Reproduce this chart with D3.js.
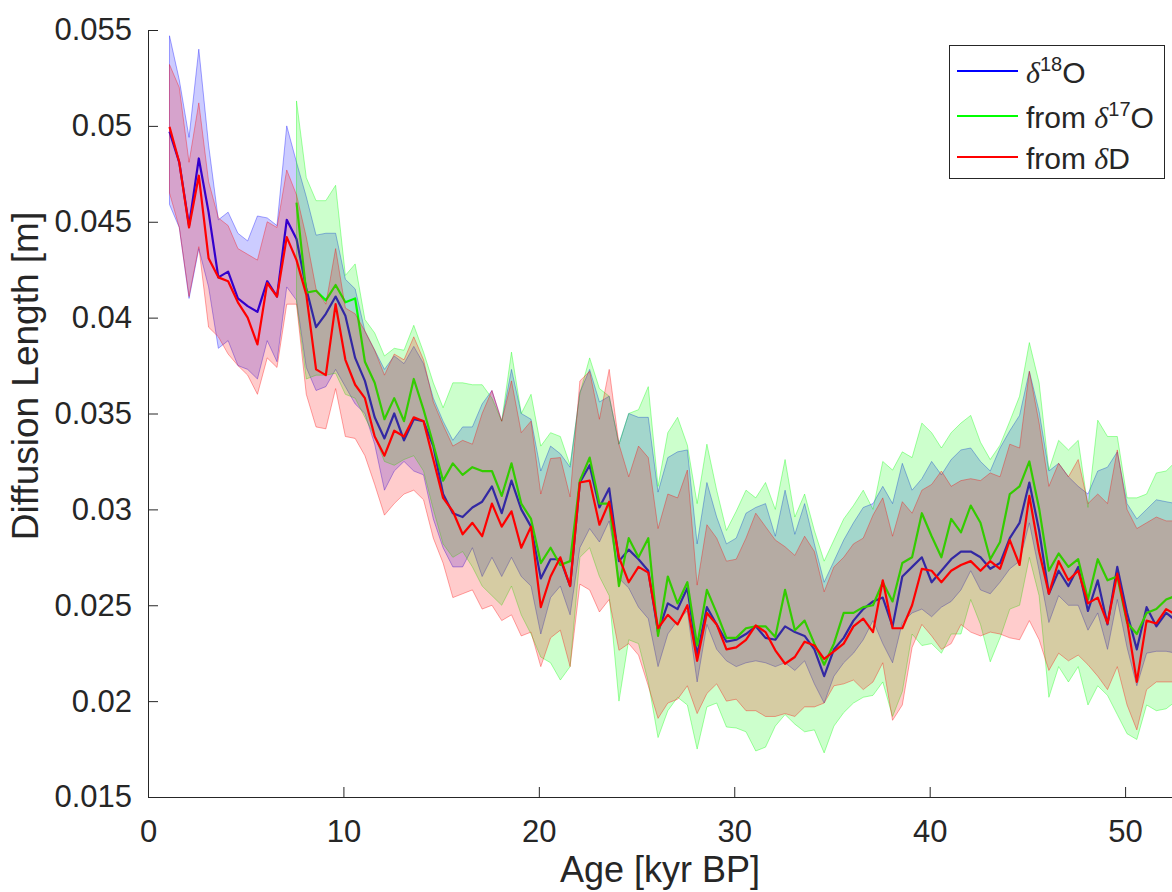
<!DOCTYPE html>
<html>
<head>
<meta charset="utf-8">
<script src="https://cdn.jsdelivr.net/npm/d3@7"></script>
<style>
  body { margin: 0; background: #fff; }
  svg text { font-family: "Liberation Sans", Arial, Helvetica, sans-serif; fill: #262626; }
</style>
</head>
<body>
<svg id="chart" width="1172" height="892"></svg>
<script>
var age = [
  1.1, 1.6, 2.1, 2.6, 3.1, 3.6, 4.1, 4.6, 5.1, 5.6,
  6.1, 6.6, 7.1, 7.6, 8.1, 8.6, 9.1, 9.6, 10.1, 10.6,
  11.1, 11.6, 12.1, 12.6, 13.1, 13.6, 14.1, 14.6, 15.1, 15.6,
  16.1, 16.6, 17.1, 17.6, 18.1, 18.6, 19.1, 19.6, 20.1, 20.6,
  21.1, 21.6, 22.1, 22.6, 23.1, 23.6, 24.1, 24.6, 25.1, 25.6,
  26.1, 26.6, 27.1, 27.6, 28.1, 28.6, 29.1, 29.6, 30.1, 30.6,
  31.1, 31.6, 32.1, 32.6, 33.1, 33.6, 34.1, 34.6, 35.1, 35.6,
  36.1, 36.6, 37.1, 37.6, 38.1, 38.6, 39.1, 39.6, 40.1, 40.6,
  41.1, 41.6, 42.1, 42.6, 43.1, 43.6, 44.1, 44.6, 45.1, 45.6,
  46.1, 46.6, 47.1, 47.6, 48.1, 48.6, 49.1, 49.6, 50.1, 50.6,
  51.1, 51.6, 52.1, 52.6
];

var d18O = [
  49.7, 48.1, 44.8, 48.3, 45.5, 42.1, 42.4, 41.0, 40.6, 40.3,
  41.9, 41.1, 45.1, 44.1, 41.5, 39.5, 40.2, 41.1, 40.1, 37.9,
  36.7, 34.8, 33.7, 35.0, 33.6, 34.7, 34.6, 33.3, 30.8, 29.8,
  29.6, 30.1, 30.4, 31.2, 29.8, 31.5, 30.0, 29.1, 26.4, 27.4,
  27.4, 26.0, 31.4, 32.3, 30.1, 31.1, 27.3, 27.9, 27.4, 26.8,
  23.6, 25.1, 24.8, 25.9, 22.4, 24.9, 24.0, 23.1, 23.2, 23.5,
  23.9, 23.3, 23.2, 23.9, 23.6, 23.4, 22.7, 21.3, 22.7, 23.3,
  24.2, 24.8, 25.2, 25.4, 23.9, 26.5, 27.0, 27.5, 26.2, 26.8,
  27.4, 27.8, 27.8, 27.5, 26.9, 27.2, 28.5, 29.3, 31.4, 28.9,
  25.6, 26.8, 26.0, 27.0, 24.7, 26.3, 24.0, 27.0, 24.6, 22.7,
  24.9, 23.9, 24.6, 24.2
];
var d18OHi = [
  54.7, 52.4, 49.4, 54.0, 49.0, 45.1, 45.5, 44.4, 44.0, 45.3,
  45.2, 44.8, 50.0, 48.1, 46.3, 44.3, 44.4, 44.4, 42.0, 41.5,
  39.3, 38.3, 37.3, 38.0, 37.6, 38.5, 37.6, 35.8, 34.6, 33.6,
  34.3, 34.3, 35.5, 36.2, 34.6, 37.3, 35.0, 34.7, 32.0, 33.3,
  32.9, 32.2, 36.1, 37.3, 35.6, 35.9, 33.4, 35.0, 34.8, 34.8,
  30.9, 32.7, 33.0, 33.1, 28.2, 31.4, 29.6, 28.2, 28.5, 29.8,
  30.1, 30.3, 28.6, 31.0, 28.7, 30.3, 28.2, 26.2, 27.3, 28.4,
  29.3, 30.1, 30.3, 31.2, 30.3, 32.4, 31.0, 31.6, 32.5, 31.8,
  32.6, 33.1, 33.2, 32.5, 32.0, 33.2, 34.1, 34.9, 37.2, 35.1,
  32.0, 32.4, 31.7, 31.2, 30.8, 32.0, 32.2, 33.0, 30.3, 29.5,
  30.0, 30.5, 30.4, 30.3
];
var d18OLo = [
  45.9, 44.7, 41.0, 43.6, 41.6, 38.4, 38.8, 37.5, 37.3, 36.8,
  38.8, 37.7, 41.6, 40.9, 37.4, 36.2, 36.4, 37.3, 36.4, 35.5,
  35.0, 33.4, 31.0, 32.0, 32.5, 32.0, 31.8, 29.5, 28.0, 27.0,
  27.0, 28.0, 26.5, 27.5, 26.5, 27.5, 26.5, 26.0, 23.5, 25.4,
  26.0, 24.5, 28.0, 29.0, 28.3, 29.4, 26.4, 25.9, 24.9, 24.3,
  21.8, 23.5, 24.2, 24.7, 21.0, 24.0, 22.7, 22.1, 21.8, 22.0,
  22.1, 22.0, 21.8, 22.0, 21.6, 22.1, 20.9, 19.9, 21.3, 22.0,
  22.5, 23.2, 24.2, 23.0, 22.0, 24.1, 24.6, 24.8, 24.4, 24.9,
  25.2, 25.8, 26.8, 25.8, 25.6, 26.2, 26.9, 27.3, 29.3, 26.8,
  24.1, 25.5, 25.0, 25.0, 23.7, 24.6, 22.7, 25.3, 22.8, 20.8,
  22.5, 22.6, 22.6, 22.5
];

var d17O = [
  null, null, null, null, null, null, null, null, null, null,
  null, null, null, 46.0, 41.3, 41.4, 40.9, 41.7, 40.8, 41.0,
  37.7, 36.6, 34.7, 35.8, 34.6, 36.8, 35.2, 33.4, 31.5, 32.4,
  31.8, 32.2, 32.0, 32.0, 30.7, 32.4, 30.3, 29.5, 27.2, 28.0,
  27.1, 27.3, 31.5, 32.7, 30.3, 30.3, 26.0, 28.5, 27.5, 28.5,
  23.4, 26.5, 25.1, 26.2, 22.9, 25.8, 24.6, 23.3, 23.3, 23.8,
  23.9, 23.9, 23.35, 25.8, 23.7, 24.2, 23.0, 21.9, 23.0, 24.6,
  24.6, 24.9, 25.0, 26.2, 25.2, 27.2, 27.5, 29.8, 28.6, 27.5,
  29.5, 28.8, 30.2, 29.3, 27.4, 28.3, 30.8, 31.2, 32.5, 30.05,
  26.8, 27.7, 27.0, 27.4, 25.3, 27.4, 26.3, 26.5, 24.1, 23.5,
  24.6, 24.8, 25.3, 25.5
];
var d17OHi = [
  null, null, null, null, null, null, null, null, null, null,
  null, null, null, 51.3, 47.3, 46.1, 46.1, 46.9, 42.2, 42.8,
  39.9, 39.2, 38.0, 38.4, 38.3, 39.6, 38.2, 36.6, 35.3, 36.6,
  36.6, 36.5, 36.5, 35.8, 34.6, 38.2, 35.0, 36.0, 33.3, 34.0,
  33.8, 32.3, 36.05, 37.9, 36.3, 35.9, 33.4, 35.0, 35.2, 36.4,
  31.2, 34.0, 34.8, 33.35, 30.3, 33.4, 31.0, 28.9, 29.9, 31.0,
  30.6, 31.4, 30.0, 32.6, 29.6, 30.8, 28.9, 27.3, 28.4, 29.5,
  30.2, 31.0, 30.0, 32.5, 32.05, 33.0, 32.7, 34.5, 34.0, 33.2,
  34.0, 34.5, 34.9, 33.5, 32.6, 33.35, 34.6, 35.9, 38.7, 36.6,
  32.05, 33.6, 33.1, 33.6, 30.1, 34.65, 33.8, 33.8, 30.6, 30.6,
  30.8, 31.9, 32.0, 32.5
];
var d17OLo = [
  null, null, null, null, null, null, null, null, null, null,
  null, null, null, 40.8, 36.8, 37.0, 37.0, 37.1, 36.0, 35.8,
  34.8, 33.8, 32.5, 32.3, 32.6, 32.8, 32.0, 30.0, 28.2, 27.5,
  27.8, 27.0, 26.0, 25.5, 25.0, 26.0, 24.5, 23.5, 22.3, 22.0,
  21.1, 21.8, 27.5, 28.0, 26.5, 25.5, 20.0, 23.2, 23.0, 21.0,
  18.1, 19.5, 20.2, 19.8, 17.5, 19.7, 19.9, 18.65, 18.6, 18.4,
  17.4, 17.6, 18.7, 19.3, 18.8, 18.4, 18.5, 17.3, 18.7, 19.4,
  19.9, 20.2, 20.3, 21.0, 19.2, 20.5, 23.5, 22.9, 23.0, 22.5,
  23.5, 23.5, 25.3, 24.0, 22.05, 23.3, 24.8, 25.0, 27.5, 25.5,
  20.2, 21.8, 21.0, 21.8, 19.8, 20.8, 20.3, 19.3, 18.3, 18.0,
  19.8, 19.5, 19.6, 20.0
];

var dD = [
  49.95, 48.1, 44.7, 47.4, 43.1, 42.1, 41.9, 40.8, 40.0, 38.6,
  41.8, 41.1, 44.2, 43.0, 41.2, 37.3, 37.0, 40.7, 37.8, 36.5,
  35.8, 33.8, 32.8, 34.1, 33.8, 34.8, 34.6, 32.6, 30.6, 29.9,
  28.7, 29.3, 28.6, 30.3, 29.1, 29.9, 28.0, 29.1, 24.9, 26.5,
  27.5, 26.0, 31.4, 31.5, 29.2, 30.4, 27.5, 26.2, 27.0, 26.7,
  23.8, 24.5, 24.0, 25.0, 22.1, 24.6, 24.0, 22.7, 22.8, 23.2,
  23.95, 23.6, 22.65, 21.95, 22.3, 23.1, 22.9, 22.2, 22.6, 23.0,
  23.9, 24.3, 23.6, 26.3, 23.8, 23.8, 25.0, 26.9, 26.8, 26.2,
  26.8, 27.1, 27.3, 26.8, 27.3, 26.9, 28.4, 27.1, 30.7, 27.8,
  25.6, 27.3, 26.3, 26.8, 25.1, 25.4, 24.05, 26.65, 24.2, 21.0,
  24.2, 24.05, 24.8, 24.5
];
var dDHi = [
  53.2, 52.0, 48.1, 51.2, 47.1, 45.2, 44.8, 43.6, 43.3, 43.0,
  45.0, 44.7, 47.7, 46.4, 44.2, 41.5, 40.7, 43.6, 40.5, 40.2,
  39.3, 38.3, 37.0, 38.1, 37.8, 39.0, 37.8, 35.6, 34.4, 33.3,
  33.6, 33.4, 35.0, 36.2, 34.6, 36.7, 34.0, 34.6, 30.8, 32.65,
  32.7, 30.65, 36.7, 37.2, 34.7, 37.3, 33.4, 31.7, 33.3, 32.7,
  29.0, 30.8, 30.6, 32.05, 26.05, 29.2, 28.5, 27.3, 27.4, 28.5,
  29.8, 29.1, 28.4, 28.05, 27.6, 28.6, 27.8, 25.7, 27.0, 27.5,
  28.2, 28.5, 29.7, 30.6, 28.6, 30.4, 29.8, 31.0, 31.3, 32.0,
  31.2, 31.5, 31.6, 31.5, 31.9, 31.7, 33.4, 33.2, 37.2, 34.5,
  31.2, 32.4, 31.7, 32.6, 30.3, 30.8, 30.3, 33.1, 30.0, 29.0,
  29.3, 29.6, 29.4, 29.4
];
var dDLo = [
  46.5, 44.7, 41.1, 43.7, 39.5, 39.0, 38.1, 37.5, 37.0, 36.0,
  37.9, 37.4, 40.7, 40.7, 36.0, 34.3, 34.2, 36.3, 33.8, 33.7,
  32.8, 31.3, 29.7, 30.3, 30.8, 31.0, 30.5, 28.5, 27.2, 25.4,
  25.6, 25.8, 24.8, 25.0, 24.2, 24.5, 23.4, 23.6, 21.8, 23.3,
  23.7, 21.8, 26.1, 25.8, 24.65, 25.3, 22.65, 23.0, 22.4, 20.8,
  19.1, 19.9, 20.1, 20.8, 19.35, 20.4, 20.9, 20.0, 20.1, 19.5,
  19.5, 19.2, 19.2, 19.35, 19.2, 19.7, 19.7, 19.9, 20.8, 20.9,
  21.1, 20.6, 21.0, 22.0, 19.0, 19.8, 22.8, 24.0, 23.4, 22.7,
  23.0, 24.0, 23.6, 23.4, 23.6, 23.5, 23.3, 23.2, 24.2, 23.2,
  21.6, 22.5, 22.1, 22.4, 21.9, 21.3, 20.6, 21.8, 19.8, 18.5,
  20.6, 21.0, 21.0, 21.0
];

var xTicks = [0, 10, 20, 30, 40, 50];
var yTicks = [0.015, 0.02, 0.025, 0.03, 0.035, 0.04, 0.045, 0.05, 0.055];
var yTickLabels = ["0.015", "0.02", "0.025", "0.03", "0.035", "0.04", "0.045", "0.05", "0.055"];
var seriesNames = ["d18O", "d17O", "dD"];
var seriesColors = ["#0000ff", "#00ff00", "#ff0000"];

function mm(v) { return v == null ? null : v / 1000; }

var series = [
  { name: seriesNames[0], color: seriesColors[0], mid: d18O, hi: d18OHi, lo: d18OLo },
  { name: seriesNames[1], color: seriesColors[1], mid: d17O, hi: d17OHi, lo: d17OLo },
  { name: seriesNames[2], color: seriesColors[2], mid: dD, hi: dDHi, lo: dDLo }
].map(function (s) {
  s.rows = age.map(function (a, i) {
    return { age: a, mid: mm(s.mid[i]), hi: mm(s.hi[i]), lo: mm(s.lo[i]) };
  });
  return s;
});

// plot box (window.top is reserved, so prefixed names)
var plotLeft = 148, plotRight = 1172, plotTop = 30, plotBottom = 797;

var x = d3.scaleLinear().domain([0, 52.4]).range([plotLeft, plotRight]);
var y = d3.scaleLinear().domain([0.015, 0.055]).range([plotBottom, plotTop]);

var svg = d3.select('#chart');

svg.append('defs').append('clipPath').attr('id', 'plotclip')
  .append('rect')
  .attr('x', plotLeft).attr('y', plotTop - 2)
  .attr('width', plotRight - plotLeft).attr('height', plotBottom - plotTop + 2);

var plot = svg.append('g').attr('clip-path', 'url(#plotclip)');

var band = d3.area()
  .defined(function (d) { return d.lo != null; })
  .x(function (d) { return x(d.age); })
  .y0(function (d) { return y(d.lo); })
  .y1(function (d) { return y(d.hi); });

var line = d3.line()
  .defined(function (d) { return d.mid != null; })
  .x(function (d) { return x(d.age); })
  .y(function (d) { return y(d.mid); });

// same order as the original: band then its line, one series after the other
series.forEach(function (s) {
  plot.append('path')
    .datum(s.rows)
    .attr('d', band)
    .attr('fill', s.color)
    .attr('fill-opacity', 0.2)
    .attr('stroke', s.color)
    .attr('stroke-opacity', 0.35)
    .attr('stroke-width', 1);

  plot.append('path')
    .datum(s.rows)
    .attr('d', line)
    .attr('fill', 'none')
    .attr('stroke', s.color)
    .attr('stroke-width', 2.2)
    .attr('stroke-linejoin', 'round');
});

// axes (box off: only left and bottom)
var xAxis = svg.append('g')
  .attr('transform', 'translate(0,' + plotBottom + ')')
  .call(d3.axisBottom(x).tickValues(xTicks).tickSizeInner(-10).tickSizeOuter(0).tickPadding(23));

var yAxis = svg.append('g')
  .attr('transform', 'translate(' + plotLeft + ',0)')
  .call(d3.axisLeft(y).tickValues(yTicks)
    .tickFormat(function (d, i) { return yTickLabels[i]; })
    .tickSizeInner(-10).tickSizeOuter(0).tickPadding(16));

[xAxis, yAxis].forEach(function (g) {
  g.attr('color', '#262626')
   .attr('font-size', 31)
   .attr('font-family', '"Liberation Sans", Arial, Helvetica, sans-serif');
  g.selectAll('path, line').attr('stroke-width', 1);
});

svg.append('text')
  .attr('x', (plotLeft + plotRight) / 2)
  .attr('y', 882)
  .attr('text-anchor', 'middle')
  .attr('font-size', 36)
  .text('Age [kyr BP]');

// the original label sits a bit above the axis centre
svg.append('text')
  .attr('transform', 'rotate(-90)')
  .attr('x', -376)
  .attr('y', 38)
  .attr('text-anchor', 'middle')
  .attr('font-size', 37)
  .text('Diffusion Length [m]');

// legend
var legend = svg.append('g');
legend.append('rect')
  .attr('x', 949.5).attr('y', 45.5)
  .attr('width', 215).attr('height', 133)
  .attr('fill', '#fff')
  .attr('stroke', '#262626')
  .attr('stroke-width', 1);

var legendRows = [
  { pre: '', sup: '18', post: 'O' },
  { pre: 'from ', sup: '17', post: 'O' },
  { pre: 'from ', sup: '', post: 'D' }
];
var legendY = [71, 116, 157];

legendRows.forEach(function (r, i) {
  legend.append('line')
    .attr('x1', 957).attr('x2', 1018)
    .attr('y1', legendY[i]).attr('y2', legendY[i])
    .attr('stroke', seriesColors[i])
    .attr('stroke-width', 2);

  var t = legend.append('text')
    .attr('x', 1026)
    .attr('y', legendY[i] + 12)
    .attr('font-size', 30);
  if (r.pre) t.append('tspan').text(r.pre);
  t.append('tspan')
    .attr('font-family', '"Liberation Serif", "DejaVu Serif", serif')
    .attr('font-style', 'italic')
    .text('\u03b4');
  if (r.sup) {
    t.append('tspan').attr('font-size', 20).attr('dy', -12).text(r.sup);
    t.append('tspan').attr('dy', 12).text(r.post);
  } else {
    t.append('tspan').text(r.post);
  }
});
</script>
</body>
</html>
